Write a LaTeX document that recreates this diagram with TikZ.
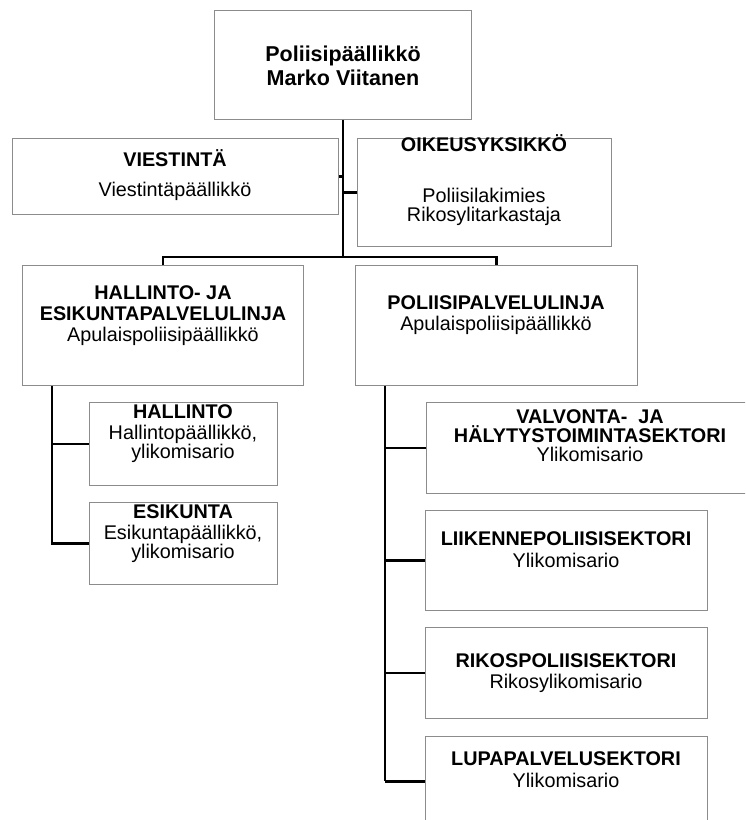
\documentclass[tikz,border=0pt]{standalone}
\usepackage{fontspec}
\setmainfont{Liberation Sans}
\usetikzlibrary{positioning,calc}

\begin{document}
\begin{tikzpicture}[x=1pt,y=-1pt,
  unit/.style={draw=black!45,line width=0.9pt,inner sep=0pt,anchor=north west},
  title/.style={anchor=base,align=center,inner sep=0pt,font=\fontsize{19.8}{21}\selectfont},
  link/.style={line width=2.3pt}]
  \useasboundingbox (0,0) rectangle (745,820);
  \clip (0,0) rectangle (745,820);
  % boxes
  \node[unit,minimum width=257,minimum height=109] (chief)  at (214,10)  {};
  \node[unit,minimum width=326,minimum height=76]  (viest)  at (12,138)  {};
  \node[unit,minimum width=254,minimum height=108] (oikeus) at (357,138) {};
  \node[unit,minimum width=281,minimum height=120] (halja)  at (22,265)  {};
  \node[unit,minimum width=282,minimum height=120] (polpal) at (355,265) {};
  \node[unit,minimum width=188,minimum height=83]  (hall)   at (89,402)  {};
  \node[unit,minimum width=188,minimum height=82]  (esik)   at (89,502)  {};
  \node[unit,minimum width=329,minimum height=91]  (valv)   at (426,402) {};
  \node[unit,minimum width=282,minimum height=100] (liik)   at (425,510) {};
  \node[unit,minimum width=282,minimum height=91]  (rikos)  at (425,627) {};
  \node[unit,minimum width=282,minimum height=90]  (lupa)   at (425,736) {};
  % texts (placed at the baseline of their last line)
  \node[title,font=\fontsize{21.5}{24}\selectfont\bfseries] (chief-t) at (343,85)
    {Poliisipäällikkö\\Marko Viitanen};
  \node[title] (viest-t)  at (175,196) {\textbf{VIESTINTÄ}\\[9pt]Viestintäpäällikkö};
  \node[title] (oikeus-t) at (484,221)
    {\textbf{OIKEUSYKSIKKÖ}\\[30pt]Poliisilakimies\\[-2pt]Rikosylitarkastaja};
  \node[title] (halja-t)  at (163,341)
    {\textbf{HALLINTO- JA}\\\textbf{ESIKUNTAPALVELULINJA}\\Apulaispoliisipäällikkö};
  \node[title] (polpal-t) at (496,330) {\textbf{POLIISIPALVELULINJA}\\Apulaispoliisipäällikkö};
  \node[title] (hall-t)   at (183,458) {\textbf{HALLINTO}\\Hallintopäällikkö,\\[-2pt]ylikomisario};
  \node[title] (esik-t)   at (183,558) {\textbf{ESIKUNTA}\\Esikuntapäällikkö,\\[-2pt]ylikomisario};
  \node[title] (valv-t)   at (590,461)
    {\textbf{VALVONTA-~~JA}\\[-2pt]\textbf{HÄLYTYSTOIMINTASEKTORI}\\[-2pt]Ylikomisario};
  \node[title] (liik-t)   at (566,567) {\textbf{LIIKENNEPOLIISISEKTORI}\\[1pt]Ylikomisario};
  \node[title] (rikos-t)  at (566,688) {\textbf{RIKOSPOLIISISEKTORI}\\Rikosylikomisario};
  \node[title] (lupa-t)   at (566,787) {\textbf{LUPAPALVELUSEKTORI}\\[1pt]Ylikomisario};
  % connectors
  \coordinate (bar) at (chief.south |- 0,257);
  \coordinate (lspine) at ([xshift=30]halja.south west);
  \coordinate (rspine) at ([xshift=30]polpal.south west);
  \draw[link] (chief.south) -- (bar);
  \draw[link] (viest.east) -- (viest.east -| chief.south);
  \draw[link] (oikeus.west) -- (oikeus.west -| chief.south);
  \draw[link] (halja.north) |- (bar) -| (polpal.north);
  \draw[link] (lspine) |- (esik.west);
  \draw[link] (hall.west) -- (hall.west -| lspine);
  \draw[link] (rspine) -- (lupa.west -| rspine);
  \foreach \s in {valv,liik,rikos,lupa}
    \draw[link] (\s.west) -- (\s.west -| rspine);
\end{tikzpicture}
\end{document}
